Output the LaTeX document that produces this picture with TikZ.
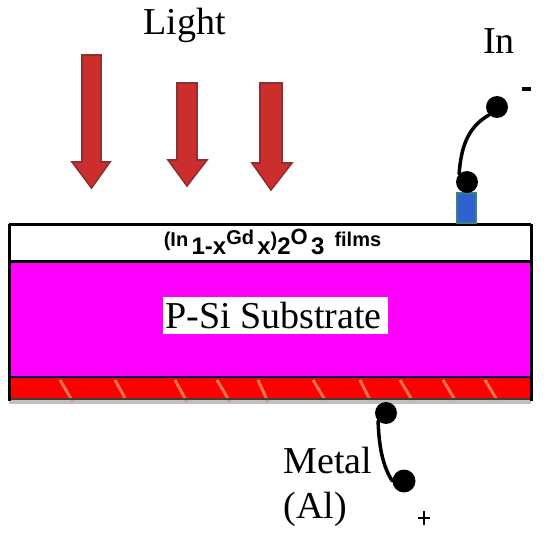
\documentclass[tikz,border=0pt]{standalone}
\usepackage{fontspec}
\setmainfont{Liberation Serif}
\newfontfamily\filmfont{Liberation Sans}
\definecolor{arrowred}{HTML}{CC2E2E}
\definecolor{arrowdark}{HTML}{8F3030}
\definecolor{hatchtan}{HTML}{E8906A}
\definecolor{contactblue}{HTML}{2F62D0}
\definecolor{contactedge}{HTML}{3F8080}
\definecolor{subpink}{HTML}{FF00FF}
\definecolor{metalred}{HTML}{FF0000}
\newcommand{\lightarrowshape}[7]{%
  \fill[arrowred,draw=arrowdark,line width=1.6pt,line join=miter]
    (#1,#3) -- (#2,#3) -- (#2,#4) -- (#6,#4) -- ({(#1+#2)/2},#7) -- (#5,#4) -- (#1,#4) -- cycle;}
\newcommand{\filmsub}[1]{\raisebox{-8pt}{\fontsize{24}{26}\selectfont #1}}
\tikzset{
  x=1pt,y=-1pt,
  lab/.style={font=\fontsize{38}{40}\selectfont,inner sep=0pt,anchor=base},
  dot/.style={circle,fill=black,inner sep=0pt,minimum size=#1},
  wire/.style={line width=3.5pt,line cap=round,black},
  hatch/.style={hatchtan,line width=3pt,opacity=.8},
  edge/.style={black,line width=3pt}
}
\begin{document}
\begin{tikzpicture}
\useasboundingbox (0,0) rectangle (550,535);
\fill[white] (0,0) rectangle (550,535);
% layers
\fill[black!25] (9,400) rectangle (531,403.5);
\fill[white] (10,226) rectangle (530,261);
\fill[subpink] (10,262) rectangle (530,376);
\fill[metalred] (10,378) rectangle (530,398);
\draw[hatch] (60,380) -- (73,402);
\draw[hatch] (115,380) -- (125,398);
\draw[hatch] (175,380) -- (187,402);
\draw[hatch] (217,380) -- (230,402);
\draw[hatch] (258,380) -- (268,402);
\draw[hatch] (313,380) -- (325,400);
\draw[hatch] (360,380) -- (370,400);
\draw[hatch] (400,380) -- (412,400);
\draw[hatch] (443,380) -- (455,400);
\draw[hatch] (485,380) -- (497,400);
\draw[edge] (9,224.5) -- (531,224.5);
\draw[edge] (9,261) -- (531,261);
\draw[color=black!60!blue,line width=2.5pt] (9,377) -- (531,377);
\draw[color=black!70!olive,line width=2.5pt] (9,399) -- (531,399);
\draw[edge] (9.5,224) -- (9.5,401);
\draw[edge] (531,224) -- (531,401);
% light arrows
\lightarrowshape{82}{101}{55}{162}{72}{110}{188}
\lightarrowshape{177}{197}{83}{160}{168}{207}{186}
\lightarrowshape{260}{282}{83}{163}{252}{292}{190}
% contact
\fill[contactblue,draw=contactedge,line width=1.8pt] (457,193) rectangle (476,223);
\node[dot=22pt] (inlow) at (467,182) {};
\node[dot=22pt] (inhigh) at (497,107) {};
\draw[wire] (inlow.north west) .. controls (461,150) and (466,128) .. (inhigh.south west);
\node[dot=22pt] (allow) at (386,413) {};
\node[dot=23pt] (alhigh) at (404,481) {};
\draw[wire] (allow.south west) .. controls (379,445) and (382,465) .. (alhigh.west);
% signs
\fill[black] (522,87.5) rectangle (531,91);
\draw[black,line width=2.5pt] (418,518) -- (430,518) (424,511) -- (424,525);
% labels
\node[lab] (light) at (184.5,35) {Light};
\node[lab] (inlabel) at (499,54) {In};
\node[lab] (metal) at (328,473) {Metal};
\node[lab] (allabel) at (315,518) {(Al)};
\node[fill=white,inner sep=0pt,minimum width=225pt,minimum height=37pt] (subbox) at (275.5,315.5) {};
\node[lab] (substrate) at (273.5,328) {P-Si Substrate};
\node[inner sep=0pt,anchor=base] (film) at (272.5,247) {\filmfont\bfseries\fontsize{20}{22}\selectfont
  (In\,\filmsub{1-x}\raisebox{2pt}{Gd}\,\filmsub{x})\filmsub{2}\raisebox{2pt}{\fontsize{22}{24}\selectfont O}\,\filmsub{3}\hspace{10pt}films};
\end{tikzpicture}
\end{document}
